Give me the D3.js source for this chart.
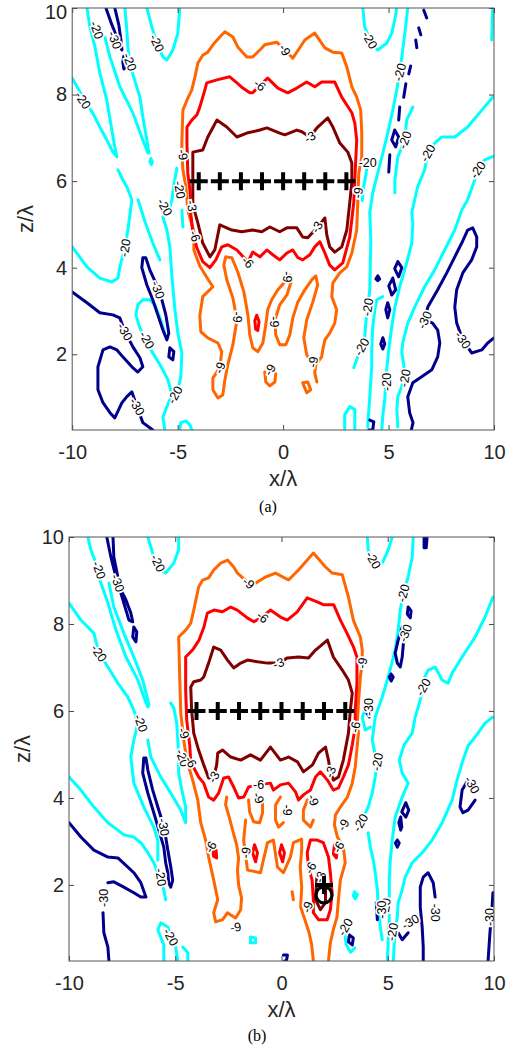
<!DOCTYPE html>
<html><head><meta charset="utf-8">
<script src="https://cdn.jsdelivr.net/npm/d3@7/dist/d3.min.js"></script>
<style>
html,body{margin:0;padding:0;background:#fff;}
svg{display:block;font-family:"Liberation Sans",Arial,Helvetica,sans-serif;}
</style></head><body>
<svg id="chart" width="515" height="1052"></svg>
<script>
// ---------------- data ----------------
const levels = [-30, -20, -9, -6, -3];
const levelColors = ["#00008c", "#00ffff", "#ff6600", "#ff0000", "#800000"];
const xTicks = [-10, -5, 0, 5, 10];
const zTicks = [2, 4, 6, 8, 10];
const arrayX = [-4, -3, -2, -1, 0, 1, 2, 3];
const arrayZ = 6;
const targetPlusB = [2, 2.0];
const targetCircleB = [2, 1.77];

// ---- panel (a) contour polylines [x/λ, z/λ] ----
const A_m3 = [[-4.28,5.73],[-4.28,6.67],[-3.81,6.72],[-3.57,7.02],[-3.14,7.41],[-2.67,7.25],[-2.19,7.02],[-1.72,7.11],[-1.10,7.18],[-0.77,7.23],[-0.16,7.11],[0.08,7.07],[0.65,7.18],[0.89,7.14],[1.27,7.02],[1.64,7.25],[2.12,7.46],[2.36,7.25],[2.69,6.88],[3.07,6.67],[3.26,6.42],[3.26,5.98],[3.16,5.50],[3.02,4.87],[2.78,4.48],[2.45,4.36],[2.21,4.48],[2.07,4.76],[1.98,5.15],[1.64,4.94],[1.17,4.69],[0.93,4.71],[0.65,4.92],[0.18,4.92],[-0.16,4.83],[-0.63,4.94],[-1.01,4.83],[-1.44,4.87],[-1.96,4.83],[-2.43,4.87],[-3.0,4.99],[-3.24,4.41],[-3.47,4.25],[-3.81,4.57],[-4.04,5.03],[-4.28,5.45],[-4.28,5.73]];
const A_m6 = [[-4.42,5.80],[-4.52,6.19],[-4.56,6.88],[-4.56,7.25],[-4.33,7.41],[-4.09,7.53],[-3.95,7.71],[-3.71,8.11],[-3.62,8.27],[-3.14,8.34],[-2.53,8.41],[-2.19,8.27],[-1.91,8.15],[-1.58,8.04],[-1.44,8.04],[-1.10,8.22],[-0.73,8.38],[-0.25,8.15],[0.22,8.04],[0.65,8.15],[1.12,8.29],[1.50,8.18],[1.83,8.29],[2.45,8.29],[2.78,7.94],[3.26,7.58],[3.40,7.34],[3.49,6.95],[3.40,6.03],[3.35,5.50],[3.16,4.71],[2.83,4.11],[2.45,3.95],[2.21,4.06],[1.98,4.34],[1.74,4.60],[1.50,4.48],[1.27,4.30],[0.93,4.18],[0.70,4.23],[0.46,4.41],[0.18,4.34],[-0.16,4.18],[-0.49,4.30],[-0.77,4.41],[-1.10,4.25],[-1.44,4.36],[-1.67,4.13],[-2.19,4.41],[-2.62,4.53],[-2.91,4.48],[-3.19,4.18],[-3.47,4.00],[-3.81,4.14],[-4.09,4.46],[-4.28,4.83],[-4.37,5.22],[-4.42,5.80]];
const A_m6_blob = [[-1.25,2.9],[-1.14,2.75],[-1.2,2.55],[-1.3,2.58],[-1.34,2.78],[-1.25,2.9]];
const A_m9 = [[1.41,1.76],[1.12,1.99],[0.98,2.38],[1.12,2.79],[1.41,3.21],[1.64,3.60],[1.55,3.81],[1.36,3.72],[1.03,3.49],[0.70,3.21],[0.46,2.84],[0.32,2.45],[0.13,2.22],[-0.16,2.22],[-0.35,2.45],[-0.39,2.79],[-0.16,3.14],[0.18,3.37],[0.41,3.72],[0.32,3.83],[0.08,3.67],[-0.25,3.49],[-0.54,3.26],[-0.73,3.03],[-0.82,2.68],[-0.96,2.26],[-1.20,2.06],[-1.44,2.15],[-1.58,2.45],[-1.67,2.91],[-1.86,3.44],[-2.15,3.90],[-2.43,4.23],[-2.72,4.25],[-2.81,4.06],[-2.67,3.72],[-2.38,3.30],[-2.19,2.79],[-2.38,2.22],[-2.62,1.76],[-2.76,1.41],[-2.86,1.06],[-3.09,0.99],[-3.33,1.18],[-3.33,1.45],[-3.00,1.69],[-2.91,2.06],[-3.09,2.26],[-3.57,2.38],[-3.90,2.52],[-3.95,2.89],[-3.81,3.33],[-3.33,3.56],[-3.57,3.74],[-3.95,4.04],[-4.23,4.41],[-4.23,4.83],[-4.52,5.33],[-4.61,5.87],[-4.75,6.26],[-4.80,6.61],[-4.80,6.91],[-4.75,7.64],[-4.56,7.87],[-4.33,8.11],[-4.18,8.41],[-4.04,8.73],[-3.81,8.91],[-3.57,8.98],[-3.33,9.15],[-3.00,9.33],[-2.76,9.45],[-2.38,9.33],[-2.15,9.10],[-1.72,8.87],[-1.44,8.87],[-1.10,9.03],[-0.87,9.15],[-0.30,9.21],[0.08,9.03],[0.46,8.84],[1.03,9.26],[1.50,9.42],[1.98,9.08],[2.36,8.98],[2.78,8.96],[3.02,8.64],[3.26,8.18],[3.49,7.94],[3.68,7.64],[3.73,7.11],[3.73,6.56],[3.59,6.19],[3.55,5.73],[3.54,5.50],[3.49,4.87],[3.26,4.34],[3.02,4.02],[2.69,3.88],[2.36,3.65],[2.31,3.33],[2.54,3.03],[2.45,2.72],[2.21,2.49],[1.98,2.33],[1.88,2.10],[1.83,1.94],[1.55,1.76],[1.50,1.57],[1.60,1.36]];
const A_m9_u = [[-0.87,1.59],[-0.82,1.36],[-0.63,1.27],[-0.39,1.36],[-0.35,1.55]];
const A_m9_tri = [[0.93,1.34],[1.12,1.11],[1.31,1.18],[1.17,1.36],[0.93,1.34]];
const A_m20 = [
  [[-9.30,10.0],[-9.26,9.88],[-9.16,9.56],[-8.92,9.10],[-8.69,8.50],[-8.36,7.87],[-8.12,7.18],[-7.98,6.79],[-7.88,6.56],[-8.07,6.67],[-8.36,6.95],[-8.69,7.25],[-9.02,7.57],[-9.35,7.83],[-9.63,8.06],[-10.0,8.38]],
  [[-8.45,9.33],[-8.21,8.87],[-7.74,8.18],[-7.12,7.57],[-6.65,6.95],[-6.41,6.65],[-6.36,6.65],[-6.46,6.95],[-6.65,7.48],[-6.79,7.94],[-7.12,8.46],[-7.27,8.75],[-7.36,9.10],[-7.41,9.49],[-7.50,10.0]],
  [[-6.27,6.52],[-6.20,6.45],[-6.25,6.38],[-6.32,6.45],[-6.27,6.52]],
  [[-6.46,10.0],[-6.22,9.56],[-5.99,9.19],[-5.70,8.87],[-5.51,8.80],[-5.23,9.03],[-4.99,9.42],[-4.90,10.0]],
  [[-10.0,4.48],[-9.30,4.02],[-8.69,3.76],[-8.12,3.67],[-7.83,3.76],[-7.74,4.02],[-7.50,4.46],[-7.36,4.87],[-7.17,5.57],[-7.41,5.87],[-7.60,6.03],[-7.83,6.26]],
  [[-6.88,5.57],[-6.55,5.06],[-6.18,4.57],[-5.84,4.18]],
  [[-5.61,0.25],[-5.70,0.55],[-5.51,0.79],[-5.27,1.06],[-5.46,1.41],[-5.84,1.76],[-6.22,2.06],[-6.51,2.33],[-6.79,2.61],[-6.98,2.91],[-6.89,3.14],[-6.65,3.26],[-6.32,3.26],[-6.08,3.14],[-5.84,2.84],[-5.61,2.49]],
  [[-5.70,5.17],[-5.51,4.87],[-5.37,4.48],[-5.27,3.79],[-5.13,3.03],[-4.99,2.49],[-4.80,2.03],[-4.85,1.48],[-4.99,1.18]],
  [[-4.90,0.25],[-4.85,0.42],[-4.61,0.46],[-4.42,0.37],[-4.33,0.25]],
  [[-4.80,5.33],[-4.75,4.94]],
  [[-5.04,6.30],[-5.18,5.91],[-5.27,5.57],[-5.46,5.22]],
  [[3.78,10.0],[3.87,9.56],[4.11,9.26],[4.49,9.03],[4.92,9.19],[5.15,9.42],[5.29,9.72],[5.39,10.0]],
  [[5.91,10.0],[5.77,9.42],[5.63,8.87],[5.53,8.52],[5.39,8.11],[5.20,7.64],[4.96,7.11],[4.73,6.65],[4.49,6.19],[4.25,5.73],[4.11,5.27],[4.16,4.64],[4.11,3.49],[4.01,3.09],[3.92,2.72],[3.87,2.40],[3.73,2.17],[3.54,1.94],[3.35,1.69]],
  [[6.15,7.71],[5.86,7.41],[5.77,6.95],[5.44,6.56],[5.30,6.03],[5.30,5.73]],
  [[9.94,7.94],[9.42,7.64],[8.75,7.25],[8.14,7.02],[7.52,7.02],[7.19,6.88],[6.86,6.65],[6.71,6.26],[6.38,5.87],[6.10,5.27],[6.15,5.03],[6.10,4.57],[5.86,4.11],[5.53,3.56],[5.30,3.09],[5.15,2.63],[5.01,2.10],[4.91,1.64],[4.87,1.36],[4.82,0.95],[4.73,0.60],[4.68,0.25]],
  [[10.0,6.58],[9.56,6.49],[9.23,6.26],[9.09,6.03],[8.75,5.57],[8.47,5.33],[8.14,4.87],[7.66,4.41],[7.19,3.95],[6.71,3.56],[6.24,3.09],[5.91,2.72],[5.67,2.26],[5.63,2.03],[5.72,1.76],[5.77,1.45],[5.44,1.02],[5.39,0.72],[5.44,0.32]],
  [[9.94,10.0],[9.89,9.26]],
  [[4.01,6.42],[3.92,6.14],[3.80,5.80],[3.75,5.55]],
  [[4.72,3.33],[4.44,3.26],[4.35,3.03],[4.25,2.63],[4.20,2.10],[4.20,1.71],[4.11,1.02],[4.01,0.32]],
  [[2.92,0.25],[2.92,0.60],[3.16,0.79],[3.40,0.72],[3.40,0.25]]
];
const A_m30 = [
  [[-8.40,10.0],[-8.17,9.68],[-7.93,9.38],[-7.74,9.12],[-7.64,9.03],[-7.69,9.26],[-7.79,9.61],[-7.98,10.0]],
  [[-7.55,8.89],[-7.41,8.84],[-7.41,8.66],[-7.55,8.59],[-7.60,8.75],[-7.55,8.89]],
  [[-10.0,3.44],[-9.30,3.19],[-8.69,2.96],[-8.07,2.91],[-7.74,2.84],[-7.50,2.52],[-7.12,2.17],[-6.79,1.92],[-6.65,1.71],[-6.89,1.59],[-7.17,1.71],[-7.60,1.94],[-7.88,2.10],[-8.21,2.17],[-8.54,2.10],[-8.78,1.71],[-8.78,1.18],[-8.54,0.88],[-8.21,0.65],[-7.98,0.53],[-7.64,0.88],[-7.41,1.02],[-7.17,1.13],[-6.93,0.79],[-6.65,0.42],[-6.18,0.25]],
  [[-6.65,4.23],[-6.70,4.00],[-6.46,3.60],[-6.18,3.26],[-5.94,2.91],[-5.70,2.56],[-5.51,2.33],[-5.42,2.49],[-5.56,2.91],[-5.75,3.26],[-5.99,3.60],[-6.32,3.95],[-6.51,4.23],[-6.65,4.23]],
  [[-5.37,2.15],[-5.18,2.06],[-5.23,1.87],[-5.42,1.94],[-5.37,2.15]],
  [[6.08,0.25],[6.16,0.42],[6.00,0.65],[5.91,1.02],[6.15,1.34],[6.57,1.48],[7.05,1.64],[7.33,1.94],[7.43,2.26],[7.33,2.56],[7.09,2.72],[6.71,2.79],[6.86,3.09],[7.33,3.49],[7.76,3.88],[8.14,4.25],[8.47,4.57],[8.75,4.87],[8.99,4.92],[9.18,4.71],[9.18,4.48],[8.94,4.18],[8.52,3.88],[8.23,3.49],[8.14,3.09],[8.23,2.72],[8.52,2.33],[8.94,2.03],[9.42,2.10],[9.70,2.26],[10.0,2.38]],
  [[5.44,4.14],[5.63,4.00],[5.48,3.79],[5.29,3.98],[5.44,4.14]],
  [[5.20,3.76],[5.34,3.49],[5.15,3.37],[5.01,3.58],[5.20,3.76]],
  [[4.96,3.19],[5.06,3.03],[4.96,2.84],[4.87,3.03],[4.96,3.19]],
  [[4.49,3.81],[4.58,3.74],[4.49,3.70],[4.40,3.74],[4.49,3.81]],
  [[4.73,2.38],[4.82,2.24],[4.73,2.12],[4.63,2.24],[4.73,2.38]],
  [[4.11,0.48],[4.30,0.44],[4.25,0.25],[4.06,0.25]],
  [[6.67,9.95],[6.81,9.77]],
  [[6.43,9.54],[6.53,9.38]],
  [[6.29,9.26],[6.34,9.08]],
  [[6.05,8.66],[5.96,8.48]],
  [[5.82,8.25],[5.72,7.94]],
  [[5.53,7.71],[5.48,7.41]],
  [[5.29,7.18],[5.48,7.02],[5.34,6.79],[5.15,6.95],[5.29,7.18]],
  [[5.06,6.61],[5.01,6.21]]
];
// label rows: [level, x, z, angle]
const A_labels = [
  [-20,-8.84,9.49,70],[-20,-9.49,7.87,55],[-20,-7.27,8.75,70],[-20,-5.99,9.19,65],[-20,-7.50,4.46,-80],[-20,-6.46,2.33,60],[-20,-5.13,1.06,-60],[-20,-4.90,5.80,80],[-20,-5.61,5.40,60],[-20,4.11,9.26,60],[-20,5.53,8.52,-75],[-20,5.77,6.95,-70],[-20,6.86,6.65,-60],[-20,9.23,6.26,-55],[-20,4.01,3.09,-80],[-20,3.73,2.17,-60],[-20,4.91,1.36,-90],[-20,5.77,1.45,-80],[-20,4.01,6.42,0],
  [-30,-7.98,9.26,70],[-30,-7.50,2.52,60],[-30,-6.93,0.79,60],[-30,-5.94,3.49,70],[-30,6.71,2.79,-65],[-30,8.52,2.33,55],
  [-9,-4.75,6.61,80],[-9,0.08,9.03,60],[-9,3.55,5.73,-80],[-9,-3.00,1.69,-70],[-9,-2.19,2.86,90],[-9,-0.39,2.75,90],[-9,0.22,3.79,90],[-9,1.41,1.82,-80],[-9,-0.63,1.64,-60],
  [-6,-1.10,8.22,40],[-6,-1.67,4.13,45],[-6,-4.18,4.73,70],
  [-3,1.27,7.02,-30],[-3,1.60,4.94,-60],[-3,-4.33,5.43,80]
];

// ---- panel (b) contour polylines ----
const B_m3 = [[-4.27,6.55],[-4.23,6.02],[-4.13,5.49],[-3.90,5.10],[-3.66,4.76],[-3.43,4.46],[-3.19,4.48],[-3.05,4.76],[-3.00,5.03],[-2.77,5.10],[-2.39,4.94],[-1.92,4.87],[-1.46,4.99],[-0.99,4.87],[-0.52,5.17],[-0.05,4.87],[0.33,4.94],[0.75,4.83],[1.03,4.60],[1.46,4.76],[1.74,5.03],[2.07,5.17],[2.21,4.87],[2.30,4.60],[2.44,4.41],[2.68,4.48],[2.91,4.87],[3.15,5.49],[3.24,6.02],[3.33,6.41],[3.15,6.71],[2.86,6.94],[2.44,7.24],[2.16,7.63],[1.60,7.40],[1.27,7.22],[0.80,7.24],[0.28,7.22],[-0.14,7.10],[-0.66,7.10],[-1.13,7.13],[-1.60,7.17],[-1.92,7.10],[-2.25,6.99],[-2.54,7.17],[-2.86,7.40],[-3.19,7.47],[-3.43,7.10],[-3.66,6.78],[-3.80,6.71],[-4.13,6.67],[-4.27,6.55]];
const B_m3_circ = [[1.68,2.28],[1.60,1.66],[1.83,1.43],[2.07,1.59],[2.07,1.95],[1.88,2.28],[1.68,2.28]];
const B_m6 = [[-4.51,7.24],[-4.19,7.40],[-3.88,7.63],[-3.65,7.93],[-3.49,8.25],[-3.18,8.32],[-2.78,8.28],[-2.39,8.39],[-2.08,8.32],[-1.61,8.14],[-1.30,8.05],[-0.91,8.16],[-0.52,8.32],[-0.05,8.16],[0.27,8.09],[0.74,8.28],[1.21,8.60],[1.68,8.51],[1.99,8.44],[2.46,8.44],[2.77,8.09],[3.08,7.79],[3.39,7.47],[3.55,7.24],[3.55,6.64],[3.47,6.02],[3.47,5.63],[3.33,5.22],[3.15,4.76],[2.91,4.48],[2.68,4.23],[2.44,4.18],[2.16,4.41],[1.83,4.60],[1.60,4.48],[1.36,4.18],[1.03,4.07],[0.80,3.95],[0.66,4.14],[0.33,4.34],[-0.05,4.30],[-0.38,4.18],[-0.52,4.34],[-1.08,4.30],[-1.55,4.25],[-1.78,4.02],[-2.02,4.00],[-2.25,4.25],[-2.49,4.48],[-2.72,4.46],[-2.96,4.11],[-3.19,3.95],[-3.43,4.02],[-3.66,4.34],[-3.90,4.48],[-4.27,4.83],[-4.32,5.22],[-4.46,5.79],[-4.51,6.48],[-4.51,7.24]];
const B_m6_circ = [[1.36,3.03],[1.21,2.74],[1.27,2.41],[1.44,2.11],[1.50,1.66],[1.50,1.36],[1.74,1.20],[2.15,1.20],[2.30,1.43],[2.38,1.82],[2.30,2.28],[2.21,2.64],[1.97,2.97],[1.68,3.03],[1.36,3.03]];
const B_m6_blobs = [
  [[-1.27,2.92],[-1.13,2.74],[-1.22,2.53],[-1.36,2.74],[-1.27,2.92]],
  [[0.00,2.92],[0.14,2.74],[0.05,2.53],[-0.09,2.74],[0.00,2.92]],
  [[-3.25,2.92],[-3.08,2.80],[-3.05,2.62],[-3.20,2.66],[-3.25,2.92]],
  [[2.49,2.92],[2.63,2.80],[2.58,2.62],[2.44,2.71],[2.49,2.92]]
];
const B_m9 = [[-2.58,4.02],[-2.63,3.84],[-2.49,3.61],[-2.30,3.26],[-2.11,2.92],[-2.02,2.62],[-2.07,2.34],[-2.02,2.00],[-1.88,1.70],[-1.92,1.43],[-2.16,1.24],[-2.39,1.31],[-2.54,1.36],[-2.77,1.20],[-3.10,1.15],[-3.19,1.36],[-3.00,1.66],[-3.19,2.11],[-3.43,2.64],[-3.57,3.03],[-3.80,3.43],[-3.94,3.95],[-4.18,4.41],[-4.46,4.87],[-4.60,5.33],[-4.74,5.95],[-4.79,6.78],[-4.84,7.70],[-4.51,7.86],[-4.27,8.02],[-4.13,8.32],[-3.90,8.85],[-3.71,9.01],[-3.43,9.06],[-3.19,9.24],[-2.86,9.40],[-2.54,9.47],[-2.25,9.31],[-2.07,9.17],[-1.55,8.94],[-1.22,8.94],[-0.75,9.08],[-0.28,9.17],[0.33,9.01],[0.80,9.24],[1.50,9.63],[2.07,9.31],[2.39,9.17],[2.86,9.13],[3.15,8.62],[3.38,8.09],[3.71,7.70],[3.80,7.40],[3.80,7.10],[3.71,6.78],[3.62,6.18],[3.57,5.72],[3.62,5.49],[3.47,4.71],[3.33,4.34],[3.10,4.02],[2.77,3.79],[2.54,3.61],[2.49,3.38],[2.63,3.10],[2.91,2.87],[3.00,2.51],[2.77,2.11],[2.68,1.66],[2.61,1.26],[2.44,0.97],[2.30,0.67],[2.21,0.25]];
const B_m9_more = [
  [[-1.55,3.95],[-1.50,3.68],[-1.31,3.45],[-1.03,3.43],[-0.89,3.66],[-0.89,3.89]],
  [[-0.05,4.02],[-0.28,3.84],[-0.28,3.49],[-0.14,3.33],[0.09,3.43]],
  [[1.22,3.95],[1.03,3.72],[1.03,3.49],[1.36,3.33],[1.50,3.49]],
  [[-1.69,3.49],[-1.78,3.03],[-1.60,2.34],[-0.99,2.28],[-0.66,2.97],[-0.38,3.03],[-0.19,2.41],[0.09,2.28],[0.42,2.64],[0.56,2.97],[0.95,3.05],[0.95,2.80],[0.88,2.41],[0.95,1.95],[0.90,1.49],[1.10,1.20],[1.30,0.90],[1.42,0.62],[1.50,0.25]],
  [[0.50,1.84],[0.56,1.66]]
];
const B_m20 = [
  [[-9.11,10.0],[-8.97,9.70],[-8.73,9.40],[-8.50,8.94],[-8.17,8.48],[-7.79,7.86],[-7.32,7.24],[-6.76,6.71],[-6.48,6.32],[-6.29,6.09],[-6.24,6.14],[-6.29,6.25],[-6.53,6.71],[-6.95,7.24],[-7.42,7.79],[-7.89,8.39],[-8.12,8.94]],
  [[-10.0,8.48],[-9.44,8.09],[-8.83,7.79],[-8.59,7.33],[-8.17,7.01],[-7.70,6.64],[-7.23,6.32],[-6.95,6.02],[-6.76,5.72],[-6.95,5.33],[-7.09,4.94],[-6.95,4.34],[-6.48,3.79],[-6.01,3.33],[-5.82,3.03],[-5.82,2.57]],
  [[-10.0,4.48],[-9.44,4.18],[-8.83,3.79],[-8.17,3.43],[-7.70,3.26],[-7.42,3.15],[-6.95,3.10],[-6.62,2.97],[-6.29,2.74],[-6.01,2.51],[-5.82,2.28],[-5.54,1.89],[-5.45,1.66]],
  [[-6.29,5.33],[-6.15,4.94],[-5.68,4.48],[-5.21,4.11],[-4.74,3.72],[-4.51,3.43],[-4.51,3.79],[-4.69,4.18],[-4.84,4.57],[-4.84,4.94],[-4.88,5.33],[-4.93,5.72],[-5.07,6.07],[-5.21,6.18]],
  [[-6.29,10.0],[-6.01,9.54],[-5.68,9.24],[-5.45,9.17],[-5.07,9.40],[-4.84,9.70],[-4.84,10.0]],
  [[-5.54,0.25],[-5.54,0.62],[-5.82,0.97],[-5.68,1.13],[-5.35,1.03],[-5.21,0.80],[-4.98,0.57],[-4.88,0.25]],
  [[-4.65,0.57],[-4.41,0.44],[-4.41,0.25]],
  [[-1.46,0.80],[-1.22,0.78],[-1.22,0.67],[-1.46,0.67],[-1.46,0.80]],
  [[4.04,10.0],[4.08,9.70],[4.32,9.40],[4.74,9.40],[5.02,9.70],[5.21,10.0]],
  [[6.20,10.0],[6.15,9.54],[5.96,9.08],[5.73,8.71],[5.59,8.32],[5.49,7.86],[5.35,7.40],[5.02,6.78],[4.74,6.32],[4.41,5.86],[4.27,5.33],[4.41,4.99],[4.51,4.83],[4.41,4.48],[4.27,4.11],[4.08,3.79],[3.85,3.56]],
  [[4.08,3.20],[4.18,2.87],[4.32,2.57],[4.41,2.28],[4.51,1.89],[4.55,1.49],[4.65,1.03],[4.74,0.74]],
  [[9.95,8.62],[9.58,8.16],[9.11,7.70],[8.50,7.24],[8.03,6.87],[7.84,6.64],[7.56,6.71],[7.23,7.01],[6.90,6.94],[6.67,6.71],[6.67,6.55],[6.53,6.25],[6.29,5.86],[6.15,5.49],[5.77,5.22],[5.54,4.87],[5.68,4.57],[5.96,4.34],[5.68,4.02],[5.35,3.56],[5.21,3.03],[5.12,2.57],[5.07,2.11],[5.07,1.66],[5.07,1.20],[5.02,0.67],[4.98,0.25]],
  [[9.95,5.86],[9.58,5.72],[9.11,5.40],[8.78,5.20],[8.54,4.87],[8.26,4.41],[8.03,3.95],[7.56,3.43],[7.09,3.03],[6.62,2.74],[6.15,2.51],[5.82,2.18],[5.68,1.89],[5.49,1.59],[5.45,1.26],[5.35,0.97],[5.30,0.60],[5.26,0.25]],
  [[3.43,1.84],[3.57,1.77],[3.47,1.68],[3.38,1.75],[3.43,1.84]],
  [[2.95,0.95],[3.05,0.62],[3.25,0.45],[3.45,0.55]],
  [[3.94,6.02],[3.80,5.86],[3.94,5.56],[4.18,5.63]]
];
const B_m30 = [
  [[-8.22,10.0],[-8.03,9.54],[-7.79,9.08],[-7.56,8.71],[-7.32,8.32],[-7.18,8.09],[-7.00,8.05],[-7.09,8.25],[-7.32,8.55],[-7.56,8.78],[-7.70,9.08],[-7.89,9.54],[-7.93,10.0]],
  [[-6.95,7.93],[-6.81,7.82],[-6.85,7.59],[-7.00,7.70],[-6.95,7.93]],
  [[-10.0,3.43],[-9.44,3.10],[-8.83,2.80],[-8.17,2.64],[-7.70,2.62],[-7.23,2.41],[-6.95,2.28],[-6.62,2.05],[-6.38,1.72],[-6.62,1.72],[-6.95,1.82],[-7.42,1.95],[-7.89,2.07],[-8.17,2.05]],
  [[-8.40,1.36],[-8.36,0.90],[-8.17,0.57],[-8.12,0.25]],
  [[-6.48,4.92],[-6.53,4.57],[-6.29,4.11],[-6.01,3.66],[-5.77,3.26],[-5.54,2.87],[-5.45,2.51],[-5.35,2.28],[-5.31,2.05],[-5.21,1.95],[-5.12,2.11],[-5.21,2.41],[-5.35,2.80],[-5.45,3.10],[-5.59,3.43],[-5.82,3.79],[-6.06,4.18],[-6.29,4.64],[-6.38,4.92],[-6.48,4.92]],
  [[6.71,10.0],[6.85,10.0],[6.81,9.75],[6.71,9.75],[6.71,10.0]],
  [[5.96,8.39],[6.10,8.30],[6.06,8.14],[5.92,8.23],[5.96,8.39]],
  [[5.68,7.93],[5.49,7.63],[5.35,7.33],[5.45,7.10],[5.59,7.01],[5.68,7.24],[5.73,7.52],[5.82,7.75],[5.68,7.93]],
  [[5.16,6.85],[5.26,6.78],[5.16,6.69],[5.07,6.78],[5.16,6.85]],
  [[4.04,6.25],[4.18,6.14],[4.13,5.86],[3.99,5.98],[4.04,6.25]],
  [[5.85,3.89],[5.99,3.72],[5.85,3.56],[5.66,3.68],[5.85,3.89]],
  [[5.61,3.56],[5.66,3.33],[5.61,3.26],[5.52,3.43],[5.61,3.56]],
  [[5.45,3.03],[5.54,2.96],[5.45,2.87],[5.36,2.96],[5.45,3.03]],
  [[8.78,4.41],[8.50,4.18],[8.40,3.79],[8.54,3.66],[8.78,3.72],[9.11,3.95]],
  [[7.23,1.72],[7.14,2.05],[6.90,2.28],[6.67,2.18],[6.53,1.95],[6.53,1.49],[6.62,1.03],[6.67,0.57],[6.67,0.25]],
  [[9.95,1.82],[9.91,1.49],[9.81,0.90],[9.72,0.25]],
  [[4.46,1.59],[4.51,1.20]],
  [[5.49,0.90],[5.68,0.74],[5.96,0.90]],
  [[3.19,0.85],[3.38,0.78],[3.33,0.62],[3.15,0.69],[3.19,0.85]],
  [[0.09,0.39],[0.28,0.39],[0.23,0.25],[0.14,0.25]]
];
const B_labels = [
  [-20,-8.59,9.24,70],[-20,-8.59,7.33,55],[-20,-5.82,9.40,65],[-20,-6.62,5.72,70],[-20,-4.66,4.92,70],[-20,-5.68,2.18,80],[-20,-5.21,0.80,60],[-20,4.32,9.47,60],[-20,5.73,8.71,-75],[-20,6.67,6.55,-60],[-20,4.51,4.83,-80],[-20,3.71,3.43,-60],[-20,4.88,1.49,-80],[-20,5.21,0.92,-80],[-20,3.00,1.03,-60],
  [-30,-7.71,8.94,70],[-30,-5.54,3.33,80],[-30,-8.36,1.70,-90],[-30,5.82,7.79,-70],[-30,4.08,6.09,-90],[-30,8.97,4.30,60],[-30,7.23,1.36,90],[-30,9.81,1.26,-90],[-30,4.69,1.43,-90],[-30,6.06,1.15,-30],
  [-9,-1.55,8.94,40],[-9,3.80,7.10,-80],[-9,-4.60,5.49,70],[-9,-2.16,1.03,-10],[-9,-1.08,4.00,70],[-9,0.28,3.72,90],[-9,1.50,3.95,70],[-9,-1.69,2.74,-80],[-9,2.91,3.38,-60],[-9,1.22,1.49,-70],
  [-6,-0.89,8.16,40],[-6,3.47,5.63,-80],[-6,-4.27,4.83,60],[-6,-1.08,4.30,0],[-6,1.36,2.39,-60],[-6,2.68,2.87,-60],[-6,-3.33,2.87,-60],
  [-3,-0.14,7.10,-20],[-3,2.30,4.60,-70],[-3,-3.19,4.48,-60],[-3,1.83,2.18,-70]
];

// ---------------- drawing ----------------
const svg = d3.select("#chart");
const color = d3.scaleOrdinal().domain(levels).range(levelColors);

function linesOf(level, arr) { return arr.map(p => ({level, pts: p})); }

const panels = [
  { id: "a", x0: 72.2, x1: 494, y0: 8, y1: 430, cap: "(a)", capX: 268, capY: 512, topLabelShift: 4.5,
    lines: [].concat(linesOf(-20, A_m20), linesOf(-30, A_m30), linesOf(-9, [A_m9, A_m9_u, A_m9_tri]),
                     linesOf(-6, [A_m6, A_m6_blob]), linesOf(-3, [A_m3])),
    labels: A_labels, extra: false },
  { id: "b", x0: 69, x1: 494, y0: 537, y1: 961, cap: "(b)", capX: 257, capY: 1041, topLabelShift: 0,
    lines: [].concat(linesOf(-20, B_m20), linesOf(-30, B_m30), linesOf(-9, [B_m9].concat(B_m9_more)),
                     linesOf(-6, [B_m6, B_m6_circ].concat(B_m6_blobs)), linesOf(-3, [B_m3, B_m3_circ])),
    labels: B_labels, extra: true }
];

panels.forEach(P => {
  const x = d3.scaleLinear().domain([-10, 10]).range([P.x0, P.x1]);
  const y = d3.scaleLinear().domain([0.25, 10]).range([P.y1, P.y0]);
  const g = svg.append("g");
  const clipId = "clip-" + P.id;
  g.append("clipPath").attr("id", clipId).append("rect")
    .attr("x", P.x0).attr("y", P.y0).attr("width", P.x1 - P.x0).attr("height", P.y1 - P.y0);
  const line = d3.line().x(d => x(d[0])).y(d => y(d[1]));
  const cg = g.append("g").attr("clip-path", `url(#${clipId})`);
  cg.selectAll("path.c").data(P.lines).join("path").attr("class", "c")
    .attr("d", d => line(d.pts)).attr("fill", "none")
    .attr("stroke", d => color(d.level)).attr("stroke-width", 3)
    .attr("stroke-linejoin", "round").attr("stroke-linecap", "round");
  cg.selectAll("text.lab").data(P.labels).join("text").attr("class", "lab")
    .attr("transform", d => `translate(${x(d[1])},${y(d[2])}) rotate(${d[3]})`)
    .attr("text-anchor", "middle").attr("dy", "0.35em")
    .attr("font-size", 12.5).attr("fill", "#000")
    .attr("stroke", "#fff").attr("stroke-width", 3.5).attr("paint-order", "stroke")
    .text(d => String(d[0]));
  // array markers
  const plus = (cx, cy, s) => `M${cx - s},${cy}H${cx + s}M${cx},${cy - s}V${cy + s}`;
  g.selectAll("path.m").data(arrayX).join("path").attr("class", "m")
    .attr("d", d => plus(x(d), y(arrayZ), 9))
    .attr("stroke", "#000").attr("stroke-width", 4).attr("fill", "none");
  if (P.extra) {
    g.append("path").attr("d", plus(x(targetPlusB[0]), y(targetPlusB[1]), 9))
      .attr("stroke", "#000").attr("stroke-width", 4).attr("fill", "none");
    g.append("circle").attr("cx", x(targetCircleB[0])).attr("cy", y(targetCircleB[1])).attr("r", 8)
      .attr("stroke", "#000").attr("stroke-width", 3.2).attr("fill", "none");
  }
  // axes (ticks inside, box)
  const fmt = d => String(d);
  const axB = g.append("g").attr("transform", `translate(0,${P.y1})`)
    .call(d3.axisBottom(x).tickValues(xTicks).tickSize(-5).tickSizeOuter(0).tickPadding(15).tickFormat(fmt));
  const axT = g.append("g").attr("transform", `translate(0,${P.y0})`)
    .call(d3.axisTop(x).tickValues(xTicks).tickSize(-5).tickSizeOuter(0).tickFormat(""));
  const axL = g.append("g").attr("transform", `translate(${P.x0},0)`)
    .call(d3.axisLeft(y).tickValues(zTicks).tickSize(-5).tickSizeOuter(0).tickPadding(5).tickFormat(fmt));
  const axR = g.append("g").attr("transform", `translate(${P.x1},0)`)
    .call(d3.axisRight(y).tickValues(zTicks).tickSize(-5).tickSizeOuter(0).tickFormat(""));
  [axB, axT, axL, axR].forEach(a => {
    a.select(".domain").remove();
    a.selectAll(".tick line").attr("stroke", "#444").attr("stroke-width", 1);
    a.selectAll(".tick text").attr("font-size", 20).attr("fill", "#262626")
      .attr("font-family", '"Liberation Sans", Arial, sans-serif');
  });
  axL.selectAll(".tick").filter(d => d === 10).select("text")
    .attr("transform", `translate(0,${P.topLabelShift})`);
  g.append("rect").attr("x", P.x0).attr("y", P.y0).attr("width", P.x1 - P.x0).attr("height", P.y1 - P.y0)
    .attr("fill", "none").attr("stroke", "#555").attr("stroke-width", 1);
  g.append("text").attr("x", (P.x0 + P.x1) / 2).attr("y", P.y1 + 56).attr("text-anchor", "middle")
    .attr("font-size", 22).attr("fill", "#262626").text("x/λ");
  g.append("text").attr("transform", `translate(${P.x0 - 39},${(P.y0 + P.y1) / 2}) rotate(-90)`)
    .attr("text-anchor", "middle").attr("font-size", 22).attr("fill", "#262626").text("z/λ");
  g.append("text").attr("x", P.capX).attr("y", P.capY).attr("text-anchor", "middle")
    .attr("font-family", '"Liberation Serif", "Times New Roman", serif').attr("font-size", 16)
    .attr("fill", "#000").text(P.cap);
});
</script>
</body></html>
